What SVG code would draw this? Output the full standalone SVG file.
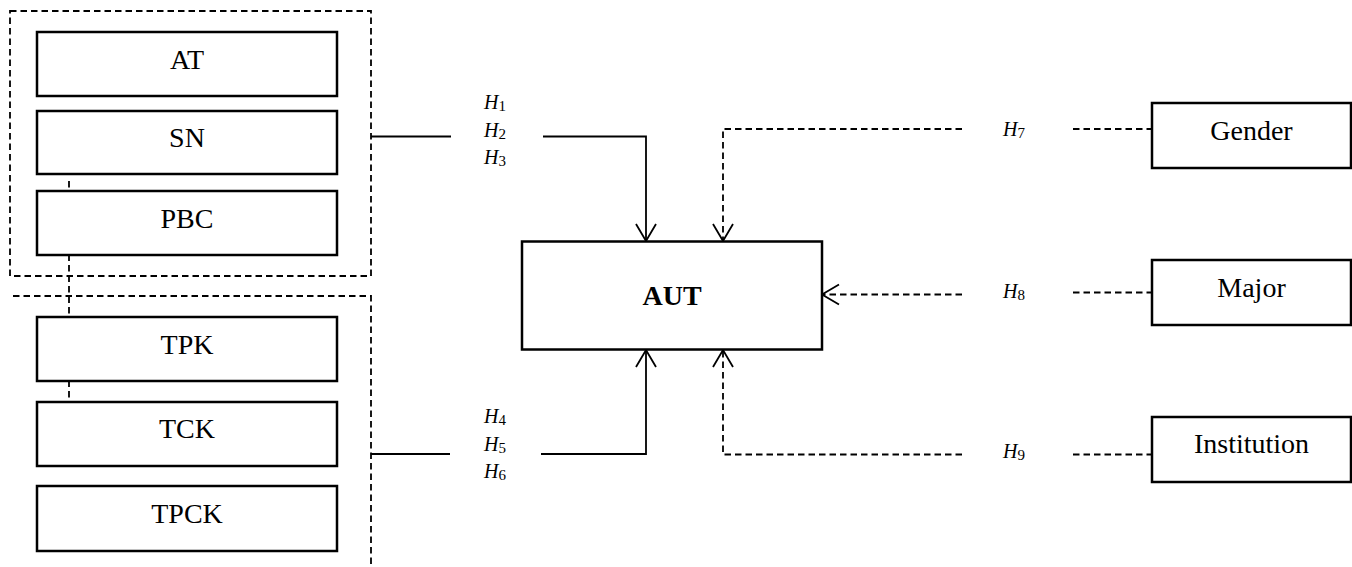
<svg xmlns="http://www.w3.org/2000/svg" width="1352" height="567" viewBox="0 0 1352 567">
<style>
.box{fill:#fff;stroke:#000;stroke-width:2.5}
.grp{fill:none;stroke:#000;stroke-width:1.8;stroke-dasharray:6.5 4}
.sol{fill:none;stroke:#000;stroke-width:1.8}
.dsh{fill:none;stroke:#000;stroke-width:1.8;stroke-dasharray:6.5 4}
.lbl{font-family:"Liberation Serif",serif;font-size:28px;fill:#000;text-anchor:middle}
.hyp{font-family:"Liberation Serif",serif;font-size:20px;font-style:italic;fill:#000}
.sub{font-size:15px;font-style:normal}
</style>
<defs>
<marker id="arr" markerUnits="userSpaceOnUse" viewBox="-20 -12 22 24" refX="0" refY="0" markerWidth="22" markerHeight="24" orient="auto">
<path d="M-17,-10 L0,0 L-17,10" fill="none" stroke="#000" stroke-width="1.8" stroke-dasharray="none"/>
</marker>
</defs>
<rect width="1352" height="567" fill="#fff"/>
<g id="groups">
<rect class="grp" x="10" y="11" width="361" height="265"/>
<path class="grp" d="M13,296 H371 V567"/>
<line class="grp" x1="69" y1="181" x2="69" y2="401"/>
</g>
<g id="connectors">
<path class="sol" d="M371,136.5 H451"/>
<path class="sol" d="M543,136.5 H646 V241" marker-end="url(#arr)"/>
<path class="sol" d="M371,454 H450"/>
<path class="sol" d="M541,454 H646 V350" marker-end="url(#arr)"/>
<path class="dsh" d="M962,129 H723 V241" marker-end="url(#arr)"/>
<path class="dsh" d="M962,294.5 H822" marker-end="url(#arr)"/>
<path class="dsh" d="M962,454.5 H723 V350" marker-end="url(#arr)"/>
<path class="dsh" d="M1073,129 H1152"/>
<path class="dsh" d="M1073,292.5 H1152"/>
<path class="dsh" d="M1073,454.5 H1152"/>
</g>
<g id="node-AT"><rect class="box" x="37" y="32" width="300" height="64"/><text class="lbl" x="187" y="68.5">AT</text></g>
<g id="node-SN"><rect class="box" x="37" y="111" width="300" height="63"/><text class="lbl" x="187" y="147">SN</text></g>
<g id="node-PBC"><rect class="box" x="37" y="191" width="300" height="64"/><text class="lbl" x="187" y="227.5">PBC</text></g>
<g id="node-TPK"><rect class="box" x="37" y="317" width="300" height="64"/><text class="lbl" x="187" y="354">TPK</text></g>
<g id="node-TCK"><rect class="box" x="37" y="402" width="300" height="64"/><text class="lbl" x="187" y="437.5">TCK</text></g>
<g id="node-TPCK"><rect class="box" x="37" y="486" width="300" height="65"/><text class="lbl" x="187" y="522.5">TPCK</text></g>
<g id="node-AUT"><rect class="box" x="522" y="241.5" width="300" height="108"/><text class="lbl" x="672" y="305" style="font-weight:bold;font-size:28px">AUT</text></g>
<g id="node-Gender"><rect class="box" x="1152" y="103" width="199" height="65"/><text class="lbl" x="1251.5" y="140">Gender</text></g>
<g id="node-Major"><rect class="box" x="1152" y="260" width="199" height="65"/><text class="lbl" x="1251.5" y="296.5">Major</text></g>
<g id="node-Institution"><rect class="box" x="1152" y="417" width="199" height="65"/><text class="lbl" x="1251.5" y="452.5">Institution</text></g>
<g id="labels">
<text class="hyp" x="484" y="108.5">H<tspan class="sub" dy="2">1</tspan></text>
<text class="hyp" x="484" y="136.5">H<tspan class="sub" dy="2">2</tspan></text>
<text class="hyp" x="484" y="164">H<tspan class="sub" dy="2">3</tspan></text>
<text class="hyp" x="484" y="423">H<tspan class="sub" dy="2">4</tspan></text>
<text class="hyp" x="484" y="450.5">H<tspan class="sub" dy="2">5</tspan></text>
<text class="hyp" x="484" y="478">H<tspan class="sub" dy="2">6</tspan></text>
<text class="hyp" x="1003" y="136">H<tspan class="sub" dy="1.5">7</tspan></text>
<text class="hyp" x="1003" y="298">H<tspan class="sub" dy="1.5">8</tspan></text>
<text class="hyp" x="1003" y="458">H<tspan class="sub" dy="1.5">9</tspan></text>
</g>
</svg>
